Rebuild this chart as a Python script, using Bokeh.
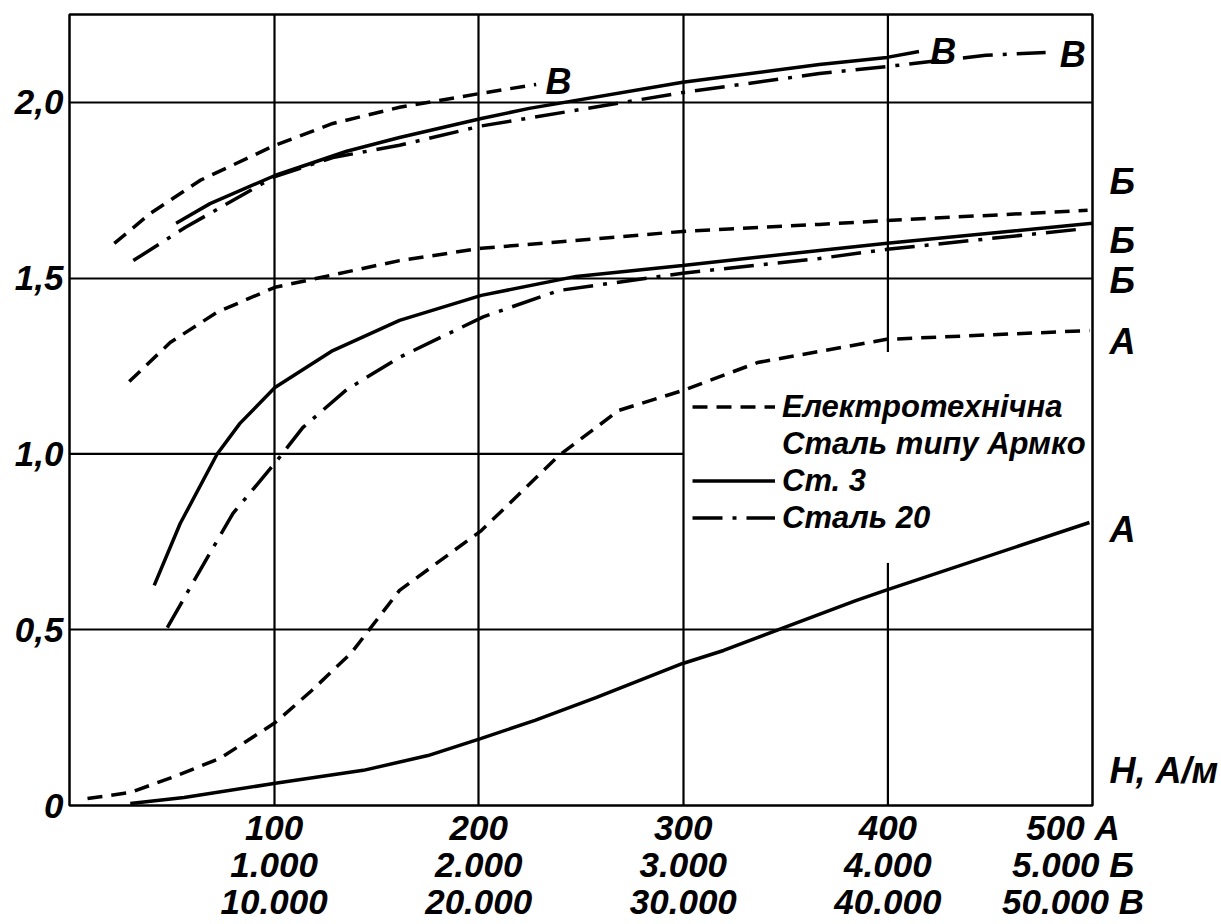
from bokeh.plotting import figure
from bokeh.models import Range1d, FixedTicker, Label, Legend, LegendItem, LinearAxis
from bokeh.embed import file_html
from bokeh.resources import INLINE

FONT = "Liberation Sans"

# ---- axis ticks ----
x_ticks = [100, 200, 300, 400, 500]
x_tick_labels = ["100\n1.000\n10.000", "200\n2.000\n20.000", "300\n3.000\n30.000",
                 "400\n4.000\n40.000", "500 А\u2007\u2007\n5.000 Б\u2007\u2007\n50.000 В\u2007\u2007"]
y_ticks = [0, 0.5, 1.0, 1.5, 2.0]
y_tick_labels = ["0", "0,5", "1,0", "1,5", "2,0"]

# curve-group markers at the right edge (B value where each letter sits)
right_marks = [1.775, 1.608, 1.493, 1.321, 0.786, 0.099]
right_labels = ["Б", "Б", "Б", "А", "А", "Н, А/м"]

# ---- curves (x in chart units of scale "A"; B in T) ----
# Scale В (upper group)
armco_V_x = [21.9, 39.5, 63.8, 100.4, 128.7, 161.3, 201.3, 228.1]
armco_V_y = [1.599, 1.684, 1.778, 1.878, 1.940, 1.986, 2.026, 2.051]
st3_V_x = [52.1, 68.7, 100.4, 135.5, 161.3, 201.3, 224.7, 299.7, 366.5, 399.6, 415.2]
st3_V_y = [1.656, 1.712, 1.792, 1.861, 1.900, 1.954, 1.983, 2.057, 2.108, 2.128, 2.145]
st20_V_x = [31.2, 56.5, 100.4, 128.7, 161.3, 201.3, 299.7, 366.5, 399.6, 447.9, 477.1]
st20_V_y = [1.550, 1.644, 1.789, 1.843, 1.878, 1.933, 2.028, 2.082, 2.102, 2.134, 2.142]

# Scale Б (middle group)
armco_B_x = [29.2, 49.2, 72.1, 100.4, 161.3, 201.3, 299.7, 366.5, 399.6, 497.6]
armco_B_y = [1.206, 1.317, 1.403, 1.474, 1.550, 1.585, 1.633, 1.653, 1.664, 1.693]
st3_B_x = [41.4, 54.1, 72.1, 83.3, 100.4, 128.7, 161.3, 201.3, 247.6, 299.7, 366.5, 399.6, 500.0]
st3_B_y = [0.626, 0.802, 0.999, 1.087, 1.189, 1.294, 1.380, 1.451, 1.505, 1.536, 1.579, 1.599, 1.656]
st20_B_x = [47.8, 63.8, 79.9, 101.4, 114.0, 135.5, 161.3, 202.2, 239.3, 299.7, 366.5, 399.6, 496.6]
st20_B_y = [0.506, 0.669, 0.831, 0.981, 1.075, 1.183, 1.275, 1.390, 1.465, 1.514, 1.556, 1.582, 1.641]

# Scale А (lower group)
armco_A_x = [8.8, 29.7, 50.2, 73.6, 100.6, 118.4, 137.9, 161.3, 201.3, 239.3, 268.5, 300.0, 336.3, 399.4, 498.5]
armco_A_y = [0.020, 0.037, 0.080, 0.134, 0.236, 0.327, 0.435, 0.612, 0.782, 0.996, 1.124, 1.181, 1.260, 1.326, 1.351]
st3_A_x = [29.7, 56.0, 100.6, 143.6, 175.2, 201.3, 227.5, 257.3, 299.7, 319.7, 384.3, 398.8, 498.5]
st3_A_y = [0.006, 0.023, 0.063, 0.100, 0.142, 0.191, 0.242, 0.307, 0.404, 0.441, 0.583, 0.612, 0.805]

legend_labels = ["Електротехнічна", "Сталь типу Армко", "Ст. 3", "Сталь 20"]

X_MAX = 500
Y_MAX = 2.25

p = figure(width=1221, height=924, output_backend="svg", toolbar_location=None,
           x_range=Range1d(0, X_MAX), y_range=Range1d(0, Y_MAX),
           min_border_left=69, min_border_top=14, min_border_right=126, min_border_bottom=119)
p.background_fill_color = "white"
p.border_fill_color = "white"
p.outline_line_color = "black"
p.outline_line_width = 2.5

right_axis = LinearAxis()
p.add_layout(right_axis, "right")

def style_axis(ax, size="35px"):
    ax.axis_line_color = None
    ax.major_tick_in = 0
    ax.major_tick_out = 0
    ax.minor_tick_in = 0
    ax.minor_tick_out = 0
    ax.major_label_text_font = FONT
    ax.major_label_text_font_style = "bold italic"
    ax.major_label_text_font_size = size
    ax.major_label_text_color = "black"

style_axis(p.xaxis[0])
style_axis(p.yaxis[0])
style_axis(right_axis, "36px")

p.xaxis[0].ticker = FixedTicker(ticks=x_ticks)
p.xaxis[0].major_label_overrides = dict(zip(x_ticks, x_tick_labels))
p.xaxis[0].major_label_standoff = 2
p.xaxis[0].major_label_text_line_height = 0.955
p.yaxis[0].ticker = FixedTicker(ticks=y_ticks)
p.yaxis[0].major_label_overrides = dict(zip(y_ticks, y_tick_labels))
p.yaxis[0].major_label_standoff = 6
right_axis.ticker = FixedTicker(ticks=right_marks)
right_axis.major_label_overrides = dict(zip(right_marks, right_labels))
right_axis.major_label_standoff = 17

# grid: full lines
p.xgrid.ticker = FixedTicker(ticks=[t for t in x_ticks if t < 400])
p.ygrid.ticker = FixedTicker(ticks=[t for t in y_ticks if t not in (0, 1.0)])
for g in (p.xgrid[0], p.ygrid[0]):
    g.grid_line_color = "black"
    g.grid_line_width = 2.2
    g.grid_line_alpha = 1

# grid: partial lines (1,0 stops at 300; 400 interrupted by the legend)
gap_lo, gap_hi = 0.69, 1.29
p.segment(x0=[x_ticks[3], x_ticks[3], 0], y0=[Y_MAX, gap_lo, y_ticks[2]],
          x1=[x_ticks[3], x_ticks[3], x_ticks[2]], y1=[gap_hi, 0, y_ticks[2]],
          line_color="black", line_width=2.2)

LW = 3.5
DASH = "15 9"
DASHDOT = "30 10 4 10"

r_armco = None
for xs, ys in ((armco_V_x, armco_V_y), (armco_B_x, armco_B_y), (armco_A_x, armco_A_y)):
    r_armco = p.line(xs, ys, line_color="black", line_width=LW, line_dash=DASH)
r_st3 = None
for xs, ys in ((st3_V_x, st3_V_y), (st3_B_x, st3_B_y), (st3_A_x, st3_A_y)):
    r_st3 = p.line(xs, ys, line_color="black", line_width=LW)
r_st20 = None
for xs, ys in ((st20_V_x, st20_V_y), (st20_B_x, st20_B_y)):
    r_st20 = p.line(xs, ys, line_color="black", line_width=LW, line_dash=DASHDOT)
r_blank = p.line([], [], line_alpha=0)

legend = Legend(items=[
    LegendItem(label=legend_labels[0], renderers=[r_armco]),
    LegendItem(label=legend_labels[1], renderers=[r_blank]),
    LegendItem(label=legend_labels[2], renderers=[r_st3]),
    LegendItem(label=legend_labels[3], renderers=[r_st20]),
], location=(623, 269), padding=0, margin=0, spacing=0,
    glyph_width=83, glyph_height=37, label_height=37, label_standoff=7,
    label_text_font=FONT, label_text_font_style="bold italic", label_text_font_size="31px",
    label_text_color="black", border_line_color=None, background_fill_alpha=0)
p.add_layout(legend, "center")

def lbl(x, y, text):
    p.add_layout(Label(x=x, y=y, x_units="data", y_units="data", text=text,
                       text_font=FONT, text_font_style="bold italic", text_font_size="36px",
                       text_color="black", text_align="center", text_baseline="middle"))

# curve-end letters inside the frame
lbl(239, 2.059, "В")
lbl(427, 2.144, "В")
lbl(490.3, 2.135, "В")

open("out.html", "w").write(file_html(p, INLINE))
